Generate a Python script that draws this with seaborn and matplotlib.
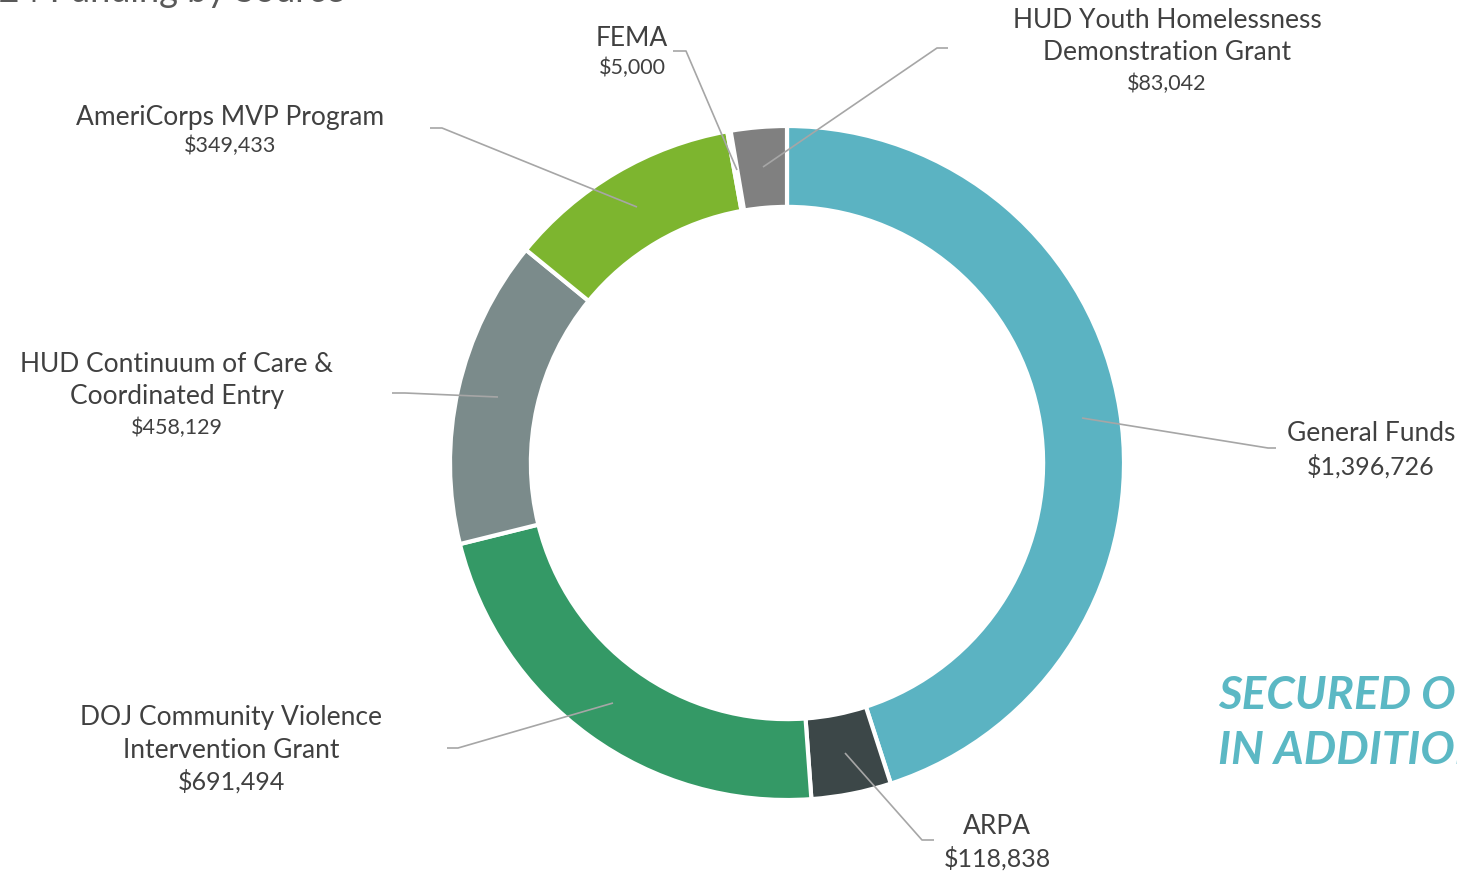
import matplotlib
matplotlib.use("Agg")
import matplotlib.pyplot as plt
import seaborn as sns

sns.set_theme(style="white")
plt.rcParams['font.family'] = ['Lato', 'DejaVu Sans']

# ---- data ----
sources = ["General Funds", "ARPA", "DOJ Community Violence\nIntervention Grant",
           "HUD Continuum of Care &\nCoordinated Entry", "AmeriCorps MVP Program",
           "FEMA", "HUD Youth Homelessness\nDemonstration Grant"]
amounts = [1396726, 118838, 691494, 458129, 349433, 5000, 83042]
value_labels = ["$1,396,726", "$118,838", "$691,494", "$458,129", "$349,433", "$5,000", "$83,042"]
colors = ["#5BB3C2", "#3C4748", "#349966", "#7B8B8B", "#7DB52F", "#BFBFBF", "#808080"]

W, H = 1457, 873
CX, CY, R = 787, 463, 337

fig = plt.figure(figsize=(W / 100, H / 100), dpi=100)
ax = fig.add_axes([0, 0, 1, 1])

ax.pie(amounts, colors=colors, startangle=90, counterclock=False, radius=1,
       wedgeprops=dict(width=0.24, edgecolor="white", linewidth=3))
ax.set_aspect("auto")
ax.set_xlim(-CX / R, (W - CX) / R)
ax.set_ylim(-(H - CY) / R, CY / R)
ax.axis("off")


def p(x, y):
    return (x - CX) / R, (CY - y) / R


text_col = "#404040"
line_col = "#A6A6A6"

layout = {
    0: dict(x=1371, ys=[434], vy=466, vs=18, pts=[(1276, 448), (1268, 448), (1082, 418)]),
    1: dict(x=997, ys=[826], vy=858, vs=18, pts=[(934, 840), (922, 840), (845, 753)]),
    2: dict(x=231, ys=[718, 750], vy=781, vs=18, pts=[(447, 748), (458, 748), (613, 703)]),
    3: dict(x=177, ys=[365, 397], vy=428, vs=15.5, pts=[(392, 393), (405, 393), (498, 397)]),
    4: dict(x=230, ys=[117], vy=146, vs=15.5, pts=[(430, 128), (442, 128), (637, 207)]),
    5: dict(x=632, ys=[38], vy=68, vs=15.5, pts=[(673, 51), (686, 51), (737, 170)]),
    6: dict(x=1167, ys=[20, 53], vy=84, vs=15.5, pts=[(948, 48), (937, 48), (763, 167)]),
}

for i, name in enumerate(sources):
    L = layout[i]
    for line, y in zip(name.split("\n"), L["ys"]):
        ax.text(*p(L["x"], y), line, ha="center", va="center", fontsize=19, color=text_col)
    ax.text(*p(L["x"], L["vy"]), value_labels[i], ha="center", va="center",
            fontsize=L["vs"], color=text_col)
    xs, ys = zip(*[p(a, b) for a, b in L["pts"]])
    ax.plot(xs, ys, color=line_col, lw=1.2, solid_capstyle="butt")

# cropped title and callout (cut by the figure edge, as in the source slide)
ax.text(*p(345, 2), "FY 2023-24 Funding by Source", ha="right", va="baseline",
        fontsize=26, color="#595959")
ax.text(*p(1218, 695), "SECURED OVER $1 MILLION", ha="left", va="center",
        fontsize=33, color="#5BB8C4", fontweight="bold", fontstyle="italic")
ax.text(*p(1218, 751), "IN ADDITIONAL FUNDING", ha="left", va="center",
        fontsize=33, color="#5BB8C4", fontweight="bold", fontstyle="italic")

fig.savefig("out.png", dpi=100)
